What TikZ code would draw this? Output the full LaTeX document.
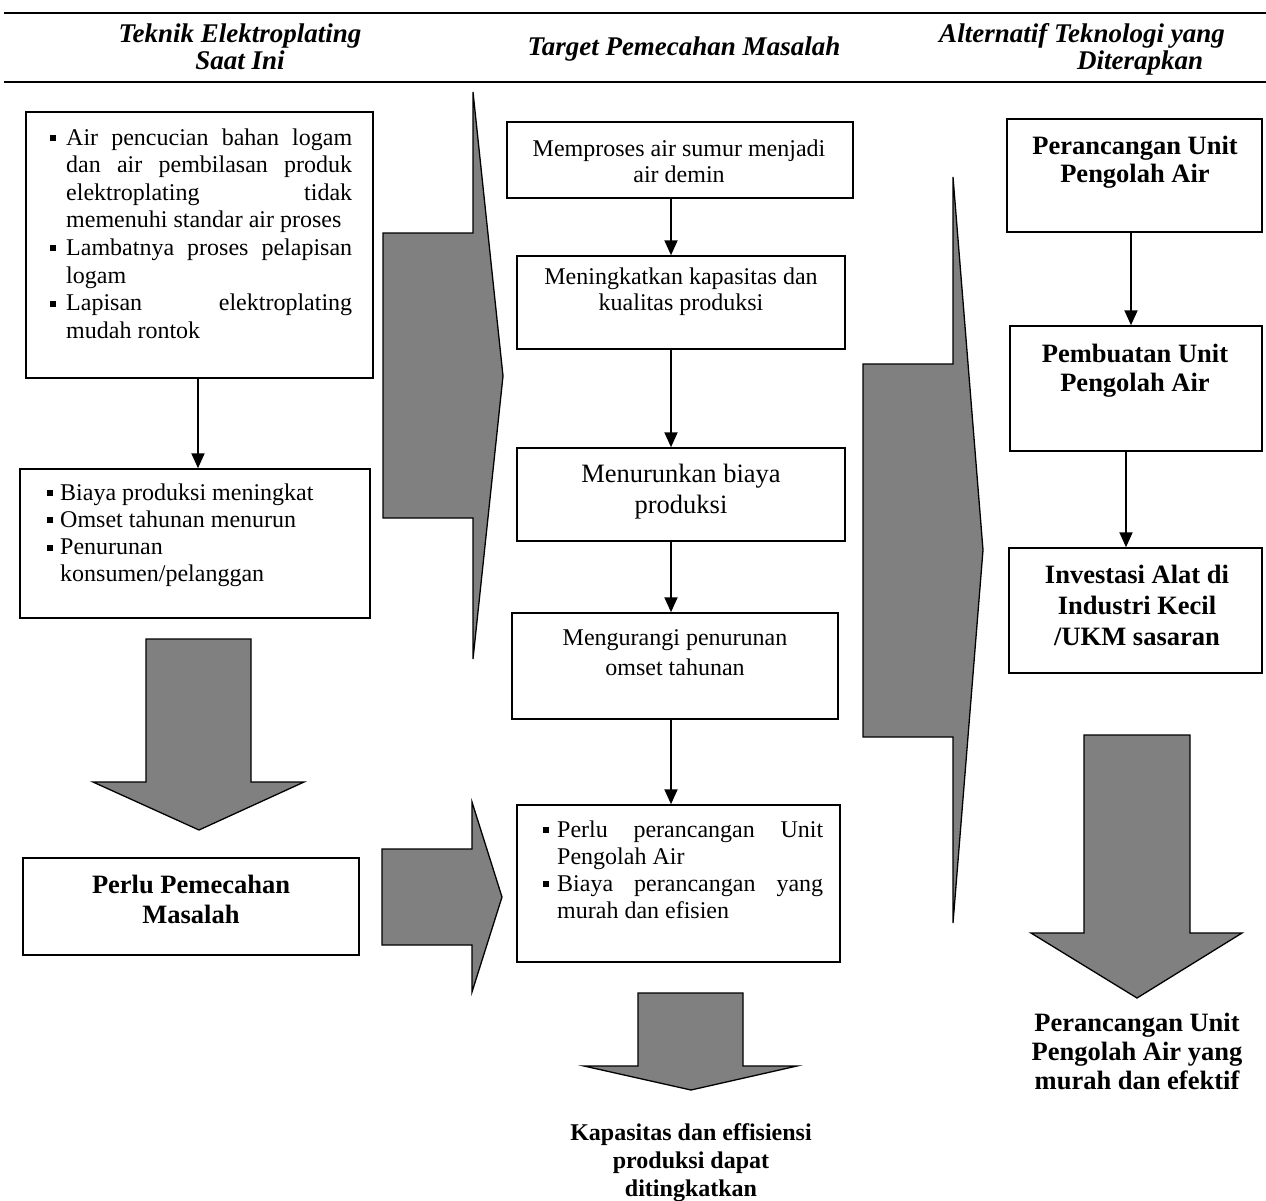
\documentclass[tikz,border=0pt]{standalone}
\usepackage{fontspec}
\setmainfont{Liberation Serif}
\usetikzlibrary{arrows.meta}
\definecolor{arrgray}{RGB}{128,128,128}
\newcommand\bul{\raisebox{4pt}{\rule{6pt}{6pt}}}
\newcommand\fs[2]{\fontsize{#1}{#2}\selectfont}
\begin{document}
\begin{tikzpicture}[x=1pt,y=-1pt,
  box/.style={draw, line width=1.5pt, inner sep=0pt, rectangle},
  conn/.style={line width=2pt, -{Triangle[length=15pt,width=13pt]}},
  blockarrow/.style={fill=arrgray, draw=black, line width=1.3pt, line join=miter},
  hdr/.style={inner sep=0pt, anchor=base, align=center, font=\fs{27}{27}\bfseries\itshape},
  ctxt/.style={inner sep=0pt, anchor=base, align=center},
  ltxt/.style={inner sep=0pt, anchor=base west, align=left},
  rule/.style={line width=2.5pt}
]
\useasboundingbox (0,0) rectangle (1266,1200);

% header
\draw[rule] (4,13) -- (1266,13);
\draw[rule] (4,82) -- (1266,82);
\node[hdr] (h1) at (240,69) {Teknik Elektroplating\\Saat Ini};
\node[hdr] (h2) at (684,55) {Target Pemecahan Masalah};
\node[hdr] (h3a) at (1082,42) {Alternatif Teknologi yang};
\node[hdr] (h3b) at (1140,69) {Diterapkan};

% block arrows
\draw[blockarrow] (146,639) -- (251,639) -- (251,782) -- (304,782) -- (199,830) -- (93,782) -- (146,782) -- cycle;
\draw[blockarrow] (382,849) -- (472,849) -- (472,802) -- (502,897) -- (472,992) -- (472,945) -- (382,945) -- cycle;
\draw[blockarrow] (383,233) -- (473,233) -- (473,92) -- (503,376) -- (473,659) -- (473,518) -- (383,518) -- cycle;
\draw[blockarrow] (638,993) -- (743,993) -- (743,1066) -- (797,1066) -- (691,1090) -- (584,1066) -- (638,1066) -- cycle;
\draw[blockarrow] (863,364) -- (953,364) -- (953,177) -- (983,550) -- (953,923) -- (953,737) -- (863,737) -- cycle;
\draw[blockarrow] (1084,735) -- (1190,735) -- (1190,933) -- (1242,933) -- (1137,998) -- (1031,933) -- (1084,933) -- cycle;

% left column
\node[box, minimum width=347pt, minimum height=266pt] (L1) at (199.5,245) {};
\node[ltxt, font=\fs{24}{27.6}] (L1t) at (50,338.2) {%
\makebox[16pt][l]{\bul}\makebox[286pt][s]{Air pencucian bahan logam}\\
\hspace*{16pt}\makebox[286pt][s]{dan air pembilasan produk}\\
\hspace*{16pt}\makebox[286pt][s]{elektroplating tidak}\\
\hspace*{16pt}memenuhi standar air proses\\
\makebox[16pt][l]{\bul}\makebox[286pt][s]{Lambatnya proses pelapisan}\\
\hspace*{16pt}logam\\
\makebox[16pt][l]{\bul}\makebox[286pt][s]{Lapisan elektroplating}\\
\hspace*{16pt}mudah rontok};

\node[box, minimum width=350pt, minimum height=149pt] (L2) at (195,543.5) {};
\node[ltxt, font=\fs{24}{27.3}] (L2t) at (47,581.9) {%
\makebox[13pt][l]{\bul}Biaya produksi meningkat\\
\makebox[13pt][l]{\bul}Omset tahunan menurun\\
\makebox[13pt][l]{\bul}Penurunan\\
\hspace*{13pt}konsumen/pelanggan};

\node[box, minimum width=336pt, minimum height=97pt] (L3) at (191,906.5) {};
\node[ctxt, font=\fs{26.5}{30}\bfseries] (L3t) at (191,923) {Perlu Pemecahan\\Masalah};

\coordinate (xa) at (198,0);
\draw[conn] (L1.south -| xa) -- (L2.north -| xa);

% middle column
\node[box, minimum width=346pt, minimum height=76pt] (M1) at (680,160) {};
\node[ctxt, font=\fs{24}{26}] (M1t) at (679,182) {Memproses air sumur menjadi\\air demin};

\node[box, minimum width=328pt, minimum height=93pt] (M2) at (681,302.5) {};
\node[ctxt, font=\fs{24}{26}] (M2t) at (681,310) {Meningkatkan kapasitas dan\\kualitas produksi};

\node[box, minimum width=328pt, minimum height=93pt] (M3) at (681,494.5) {};
\node[ctxt, font=\fs{26.5}{31}] (M3t) at (681,513) {Menurunkan biaya\\produksi};

\node[box, minimum width=326pt, minimum height=106pt] (M4) at (675,666) {};
\node[ctxt, font=\fs{24}{30}] (M4t) at (675,675) {Mengurangi penurunan\\omset tahunan};

\node[box, minimum width=323pt, minimum height=157pt] (M5) at (678.5,883.5) {};
\node[ltxt, font=\fs{24}{27}] (M5t) at (543,918) {%
\makebox[14pt][l]{\bul}\makebox[266pt][s]{Perlu perancangan Unit}\\
\hspace*{14pt}Pengolah Air\\
\makebox[14pt][l]{\bul}\makebox[266pt][s]{Biaya perancangan yang}\\
\hspace*{14pt}murah dan efisien};

\coordinate (xm) at (671,0);
\draw[conn] (M1.south -| xm) -- (M2.north -| xm);
\draw[conn] (M2.south -| xm) -- (M3.north -| xm);
\draw[conn] (M3.south -| xm) -- (M4.north -| xm);
\draw[conn] (M4.south -| xm) -- (M5.north -| xm);

\node[ctxt, font=\fs{24}{28}\bfseries] (Mend) at (691,1196) {Kapasitas dan effisiensi\\produksi dapat\\ditingkatkan};

% right column
\node[box, minimum width=255pt, minimum height=113pt] (R1) at (1134.5,175.5) {};
\node[ctxt, font=\fs{26.5}{28}\bfseries] (R1t) at (1135,182) {Perancangan Unit\\Pengolah Air};

\node[box, minimum width=252pt, minimum height=125pt] (R2) at (1136,388.5) {};
\node[ctxt, font=\fs{26.5}{29}\bfseries] (R2t) at (1135,391) {Pembuatan Unit\\Pengolah Air};

\node[box, minimum width=253pt, minimum height=125pt] (R3) at (1135.5,610.5) {};
\node[ctxt, font=\fs{26.5}{31}\bfseries] (R3t) at (1137,645) {Investasi Alat di\\Industri Kecil\\/UKM sasaran};

\coordinate (xr1) at (1131,0);
\coordinate (xr2) at (1126,0);
\draw[conn] (R1.south -| xr1) -- (R2.north -| xr1);
\draw[conn] (R2.south -| xr2) -- (R3.north -| xr2);

\node[ctxt, font=\fs{26.5}{29}\bfseries] (Rend) at (1137,1089) {Perancangan Unit\\Pengolah Air yang\\murah dan efektif};
\end{tikzpicture}
\end{document}
